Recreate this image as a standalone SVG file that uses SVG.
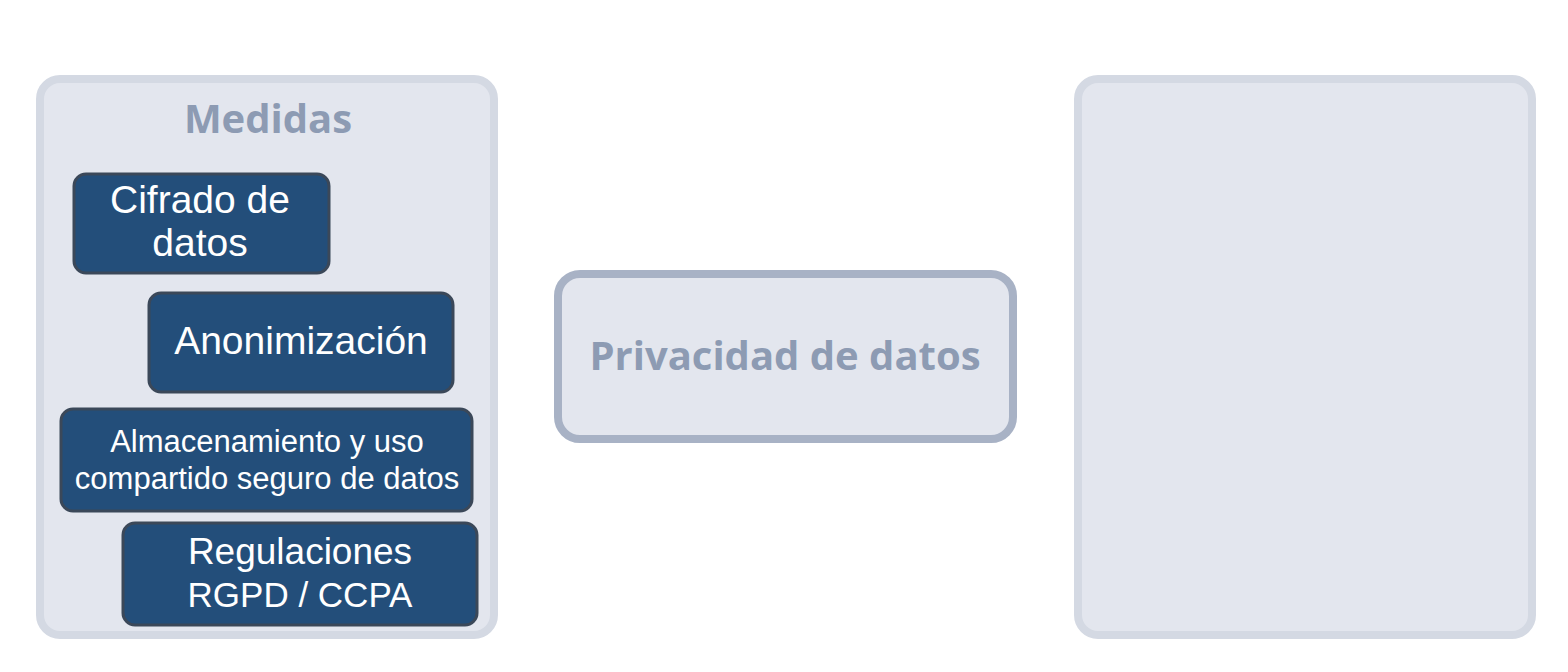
<svg xmlns="http://www.w3.org/2000/svg" width="1568" height="672" viewBox="0 0 1568 672">
<style>
.cont{fill:#e3e6ee;stroke:#d4d9e3;stroke-width:8}
.mid{fill:#e3e6ee;stroke:#a8b2c5;stroke-width:8}
.item{fill:#234e7a;stroke:#3b4859;stroke-width:3}
.title{font-family:"Open Sans","Noto Sans",sans-serif;font-weight:bold;fill:#8d9bb3;text-anchor:middle}
.lbl{font-family:"Liberation Sans",Arial,sans-serif;fill:#ffffff;text-anchor:middle}
</style>
<rect width="1568" height="672" fill="#ffffff"/>
<g id="medidas">
<rect class="cont" x="40" y="79" width="454" height="556" rx="20"/>
<text class="title" x="268" y="133" font-size="40">Medidas</text>
</g>
<g id="cifrado">
<rect class="item" x="74" y="174" width="255" height="99" rx="12"/>
<text class="lbl" x="200" y="213" font-size="39">Cifrado de</text>
<text class="lbl" x="200" y="256" font-size="39">datos</text>
</g>
<g id="anonimizacion">
<rect class="item" x="149" y="293" width="304" height="99" rx="12"/>
<text class="lbl" x="301" y="354" font-size="39">Anonimización</text>
</g>
<g id="almacenamiento">
<rect class="item" x="61" y="409" width="411" height="102" rx="12"/>
<text class="lbl" x="267" y="452" font-size="31">Almacenamiento y uso</text>
<text class="lbl" x="267" y="489" font-size="31">compartido seguro de datos</text>
</g>
<g id="regulaciones">
<rect class="item" x="123" y="523" width="354" height="102" rx="12"/>
<text class="lbl" x="300" y="564" font-size="37">Regulaciones</text>
<text class="lbl" x="300" y="607" font-size="35">RGPD / CCPA</text>
</g>
<g id="privacidad">
<rect class="mid" x="558" y="274" width="455" height="165" rx="22"/>
<text class="title" x="785" y="370" font-size="40">Privacidad de datos</text>
</g>
<g id="derecha">
<rect class="cont" x="1078" y="79" width="454" height="556" rx="20"/>
</g>
<g id="connectors"></g>
</svg>
